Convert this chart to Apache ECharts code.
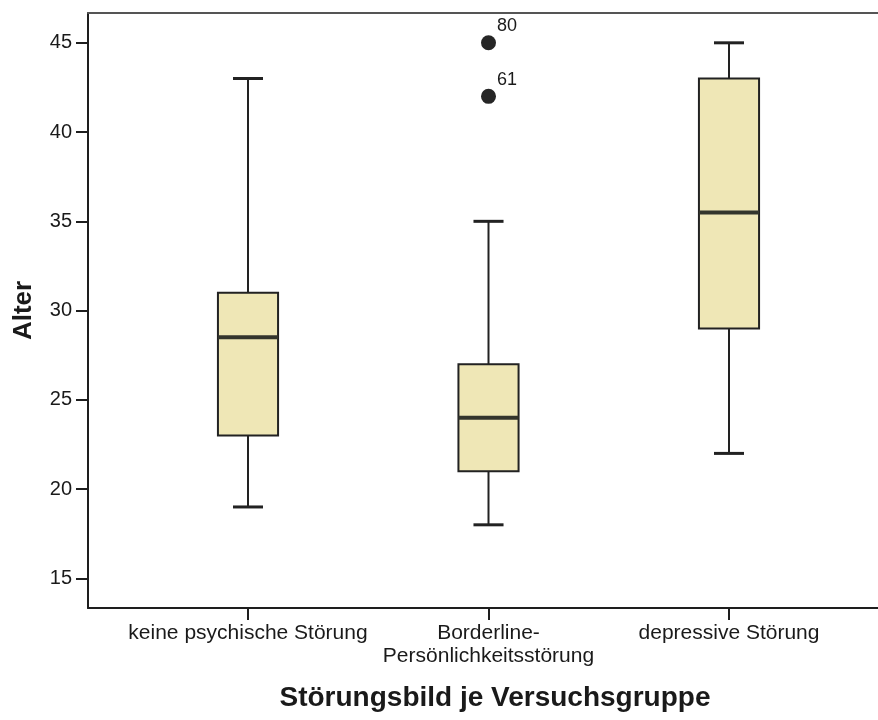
<!DOCTYPE html>
<html><head><meta charset="utf-8">
<script src="https://cdn.jsdelivr.net/npm/echarts@6/dist/echarts.min.js"></script>
<style>html,body{margin:0;padding:0;background:#fff}#c{width:878px;height:720px}</style>
</head><body><div id="c"></div>
<script>
// ---- data ----
const categories = ['keine psychische Störung', 'Borderline-\nPersönlichkeitsstörung', 'depressive Störung'];
const whiskerLow  = [19, 18, 22];
const q1          = [23, 21, 29];
const median      = [28.5, 24, 35.5];
const q3          = [31, 27, 43];
const whiskerHigh = [43, 35, 45];
const outlierGroup = [1, 1];
const outlierValue = [45, 42];
const outlierLabel = ['80', '61'];
const yTicks = [15, 20, 25, 30, 35, 40, 45];
const yMin = 13.34, yMax = 46.67;

const FONT = "'Liberation Sans', Arial, sans-serif";
const AXIS = '#1e1e1e';
const boxData = categories.map((c, i) => [i, whiskerLow[i], q1[i], median[i], q3[i], whiskerHigh[i]]);
const outlierData = outlierValue.map((v, i) => [outlierGroup[i], v, outlierLabel[i]]);

const chart = echarts.init(document.getElementById('c'), null, {renderer: 'canvas'});
chart.setOption({
  backgroundColor: '#ffffff',
  animation: false,
  grid: [
    {left: 88, right: 0, top: 13, bottom: 112},
    {left: 127.75, width: 721.5, top: 13, bottom: 112}
  ],
  xAxis: [
    {gridIndex: 0, type: 'value', min: 0, max: 1, axisLine: {show: true, onZero: false, lineStyle: {color: AXIS, width: 2}},
      axisTick: {show: false}, axisLabel: {show: false}, splitLine: {show: false}},
    {gridIndex: 0, type: 'value', position: 'top', min: 0, max: 1, axisLine: {show: true, onZero: false, lineStyle: {color: '#555', width: 2}},
      axisTick: {show: false}, axisLabel: {show: false}, splitLine: {show: false}},
    {gridIndex: 1, type: 'category', data: categories, boundaryGap: true,
      axisLine: {show: false, onZero: false},
      axisTick: {show: true, alignWithLabel: true, length: 12, lineStyle: {color: AXIS, width: 2}},
      axisLabel: {margin: 14, fontSize: 21, lineHeight: 23, color: '#1a1a1a', fontFamily: FONT, interval: 0},
      splitLine: {show: false}}
  ],
  yAxis: [
    {gridIndex: 0, type: 'value', min: yMin, max: yMax,
      axisLine: {show: true, lineStyle: {color: AXIS, width: 2}},
      axisTick: {show: true, length: 12, customValues: yTicks, lineStyle: {color: AXIS, width: 2}},
      axisLabel: {customValues: yTicks, fontSize: 20, margin: 16, color: '#1a1a1a', fontFamily: FONT},
      splitLine: {show: false},
      name: 'Alter', nameLocation: 'middle', nameGap: 51,
      nameTextStyle: {fontSize: 26, fontWeight: 'bold', color: '#1a1a1a', fontFamily: FONT}},
    {gridIndex: 1, type: 'value', min: yMin, max: yMax, show: false, splitLine: {show: false}}
  ],
  graphic: [
    {type: 'text', x: 495, y: 698, style: {text: 'Störungsbild je Versuchsgruppe', fontSize: 28, fontWeight: 'bold',
      fill: '#1a1a1a', font: "bold 28px 'Liberation Sans', Arial, sans-serif", textAlign: 'center', textVerticalAlign: 'middle'}}
  ],
  series: [
    {
      type: 'custom', xAxisIndex: 2, yAxisIndex: 1,
      data: boxData,
      encode: {x: 0, y: [1, 2, 3, 4, 5]},
      renderItem: function (params, api) {
        const x = api.value(0);
        const pLow = api.coord([x, api.value(1)]);
        const pQ1 = api.coord([x, api.value(2)]);
        const pMed = api.coord([x, api.value(3)]);
        const pQ3 = api.coord([x, api.value(4)]);
        const pHigh = api.coord([x, api.value(5)]);
        const band = api.size([1, 0])[0];
        const bw = band * 0.25, cw = band * 0.125;
        const cx = pMed[0];
        const stroke = '#222222';
        return {
          type: 'group',
          children: [
            {type: 'line', shape: {x1: cx, y1: pQ3[1], x2: cx, y2: pHigh[1]}, style: {stroke: stroke, lineWidth: 2}},
            {type: 'line', shape: {x1: cx, y1: pQ1[1], x2: cx, y2: pLow[1]}, style: {stroke: stroke, lineWidth: 2}},
            {type: 'line', shape: {x1: cx - cw / 2, y1: pHigh[1], x2: cx + cw / 2, y2: pHigh[1]}, style: {stroke: stroke, lineWidth: 3}},
            {type: 'line', shape: {x1: cx - cw / 2, y1: pLow[1], x2: cx + cw / 2, y2: pLow[1]}, style: {stroke: stroke, lineWidth: 3}},
            {type: 'rect', shape: {x: cx - bw / 2, y: pQ3[1], width: bw, height: pQ1[1] - pQ3[1]},
              style: {fill: '#efe7b6', stroke: stroke, lineWidth: 2}},
            {type: 'line', shape: {x1: cx - bw / 2, y1: pMed[1], x2: cx + bw / 2, y2: pMed[1]}, style: {stroke: '#33352c', lineWidth: 4}}
          ]
        };
      }
    },
    {
      type: 'scatter', xAxisIndex: 2, yAxisIndex: 1,
      data: outlierData,
      symbol: 'circle', symbolSize: 15,
      itemStyle: {color: '#262626', opacity: 1},
      label: {show: true, formatter: p => p.data[2], position: [16, -9], align: 'left', verticalAlign: 'middle',
        fontSize: 18, color: '#1a1a1a', fontFamily: FONT}
    }
  ]
});
</script>
</body></html>
